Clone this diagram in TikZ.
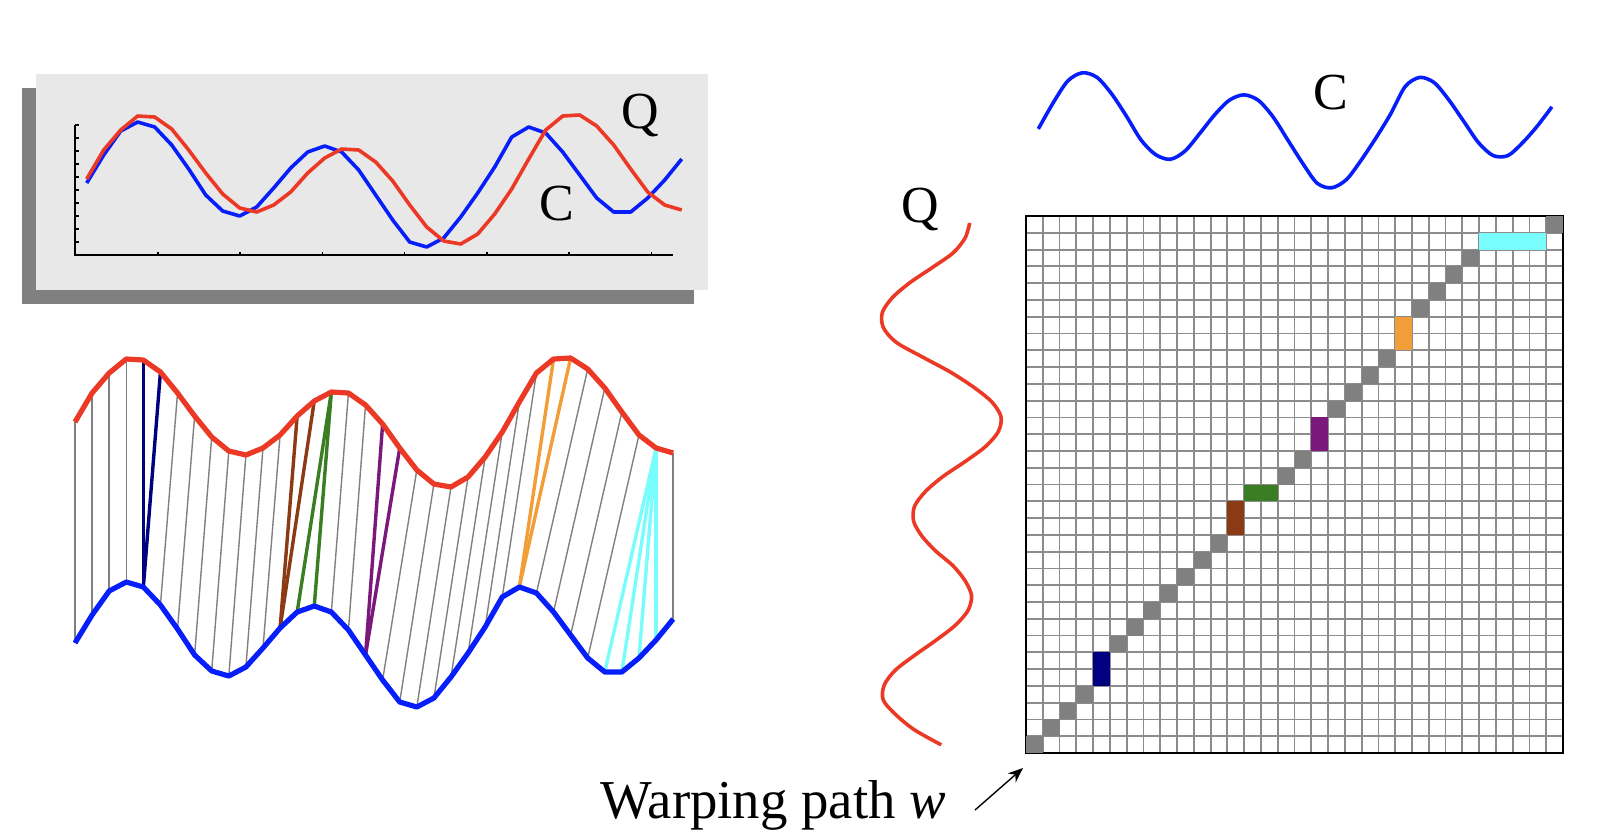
\documentclass[tikz,border=0pt]{standalone}
\usepackage{fontspec}
\setmainfont{Liberation Serif}
\usetikzlibrary{arrows.meta}
\definecolor{qred}{RGB}{235,57,38}
\definecolor{cblue}{RGB}{5,30,250}
\definecolor{panelgray}{RGB}{232,232,232}
\definecolor{shadowgray}{RGB}{128,128,128}
\definecolor{gridgray}{RGB}{140,140,140}
\definecolor{pathgray}{RGB}{128,128,128}
\definecolor{pnavy}{RGB}{0,0,128}
\definecolor{pbrown}{RGB}{139,58,20}
\definecolor{pgreen}{RGB}{58,125,34}
\definecolor{ppurple}{RGB}{122,24,124}
\definecolor{porange}{RGB}{242,158,56}
\definecolor{pcyan}{RGB}{120,252,252}
\tikzstyle{qline} = [draw=qred, line width=2.6pt, line join=round]
\tikzstyle{cline} = [draw=cblue, line width=2.6pt, line join=round]
\tikzstyle{thinq} = [draw=qred, line width=1.8pt, line join=round]
\tikzstyle{thinc} = [draw=cblue, line width=1.8pt, line join=round]
\tikzstyle{matchline} = [draw=gray, line width=0.7pt]
\tikzstyle{warpline} = [line width=1.7pt]
\tikzstyle{gridline} = [draw=gridgray, line width=0.9pt]
\tikzstyle{pathcell} = [fill=pathgray]
\tikzstyle{axis} = [draw=black, line width=0.8pt]
\tikzstyle{lettertag} = [font=\fontsize{26}{28}\selectfont, inner sep=0pt, anchor=base]
\tikzstyle{arrow} = [-{Stealth[length=7.5pt,width=6pt]}, line width=0.7pt]
\def\qvals{422,393,373,359,360,372,393,416,437,451,455,448,435,416,401,392,393,405,424,448,470,484,487,477,457,432,402,373,359,358,369,388,412,435,448,453}
\def\cvals{643,615,591,582,587,605,629,655,671,676,667,648,628,612,606,612,630,655,680,702,707,698,677,653,627,597,587,593,612,635,658,672,672,658,640,619}

\begin{document}
\begin{tikzpicture}[x=0.5pt, y=-0.5pt]
\useasboundingbox (0,0) rectangle (1604,832);

\foreach \v [count=\k from 0] in \qvals {
  \coordinate (q\k) at ({75+17.09*\k},\v);
  \coordinate (pq\k) at ({86.7+17*\k},{\v-243});
  \coordinate (rq\k) at ({941.2+0.92*(\v-422)},{744.8-14.909*\k});
}
\foreach \v [count=\k from 0] in \cvals {
  \coordinate (c\k) at ({75+17.09*\k},\v);
  \coordinate (pc\k) at ({86.7+17*\k},{\v-460});
  \coordinate (rc\k) at ({1038.3+14.674*\k},{128.9+0.92*(\v-643)});
}

\fill[shadowgray] (22,88) rectangle (694,304);
\fill[panelgray] (36,74) rectangle (708,290);
\draw[axis] (75,125) -- (75,255) -- (673,255);
\foreach \t in {0,...,9} \draw[axis] (75,{125+13*\t}) -- ++(4,0);
\foreach \t in {0,...,6} \draw[axis] ({157.7+82.3*\t},255) -- ++(0,-3);
\draw[thinc] (pc0) \foreach \k in {1,...,35} {-- (pc\k)};
\draw[thinq] (pq0) \foreach \k in {1,...,35} {-- (pq\k)};
\node (panelQ) [lettertag] at (640,128) {Q};
\node (panelC) [lettertag] at (557,220) {C};

\foreach \i/\j in {0/0,1/1,2/2,3/3,5/6,6/7,7/8,8/9,9/10,10/11,11/12,15/16,16/17,18/20,19/21,20/22,21/23,22/24,23/25,24/26,25/27,27/30,28/31,29/32,30/33,35/35}
  \draw[matchline] (c\i) -- (q\j);
\foreach \i/\j/\col in {4/4/pnavy,4/5/pnavy,12/13/pbrown,12/14/pbrown,13/15/pgreen,14/15/pgreen,17/18/ppurple,17/19/ppurple,26/28/porange,26/29/porange,31/34/pcyan,32/34/pcyan,33/34/pcyan,34/34/pcyan}
  \draw[warpline, draw=\col] (c\i) -- (q\j);
\draw[qline] (q0) \foreach \k in {1,...,35} {-- (q\k)};
\draw[cline] (c0) \foreach \k in {1,...,35} {-- (c\k)};

\def\rqlist{}
\def\rclist{}
\foreach \k in {0,...,35} {\xdef\rqlist{\rqlist (rq\k)}\xdef\rclist{\rclist (rc\k)}}
\edef\sidecurves{\noexpand\draw[thinq] plot[smooth] coordinates {\rqlist}; \noexpand\draw[thinc] plot[smooth] coordinates {\rclist};}
\sidecurves
\node (gridQ) [lettertag] at (920,222) {Q};
\node (gridC) [lettertag] at (1331,109) {C};

\begin{scope}[shift={(1026,753)}, x=8.39pt, y=8.39pt]
  \foreach \n in {0,...,32} {
    \draw[gridline] (\n,0) -- (\n,32);
    \draw[gridline] (0,\n) -- (32,\n);
  }
  \draw[black, line width=1pt] (0,0) rectangle (32,32);
  \foreach \i/\j in {0/0,1/1,2/2,3/3,5/6,6/7,7/8,8/9,9/10,10/11,11/12,15/16,16/17,18/20,19/21,20/22,21/23,23/26,24/27,25/28,26/29,31/31}
    \fill[pathcell] (\i,\j) rectangle ++(1,1);
  \fill[pnavy] (4,4) rectangle (5,6);
  \fill[pbrown] (12,13) rectangle (13,15);
  \fill[pgreen] (13,15) rectangle (15,16);
  \fill[ppurple] (17,18) rectangle (18,20);
  \fill[porange] (22,24) rectangle (23,26);
  \fill[pcyan] (27,30) rectangle (31,31);
\end{scope}

\node (warpLabel) [anchor=base west, inner sep=0pt, font=\fontsize{27.4}{30}\selectfont] at (600,818) {Warping path \textit{w}};
\coordinate (arrowTail) at (975,810);
\coordinate (arrowHead) at (1023,768);
\draw[arrow] (arrowTail) -- (arrowHead);
\end{tikzpicture}
\end{document}
